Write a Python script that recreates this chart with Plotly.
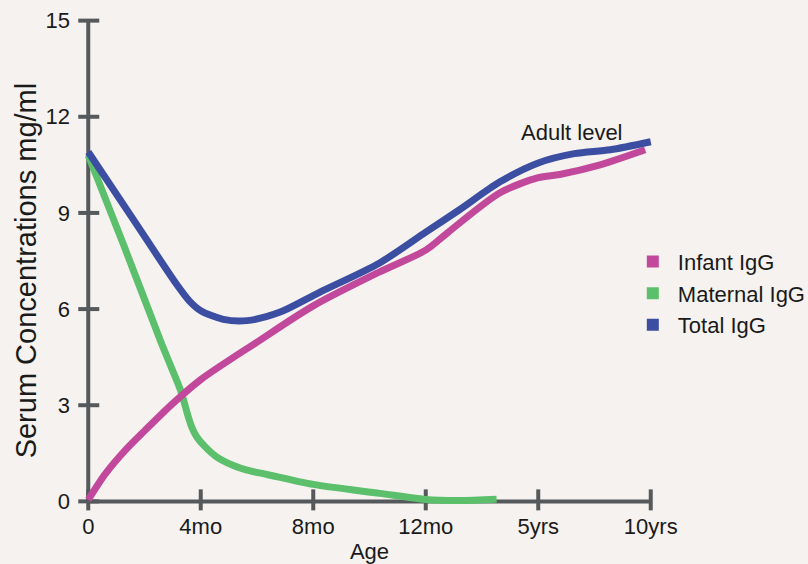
import plotly.graph_objects as go

# x positions: 0=0, 1=4mo, 2=8mo, 3=12mo, 4=5yrs, 5=10yrs
x_tickvals = [0, 1, 2, 3, 4, 5]
x_ticktext = ["0", "4mo", "8mo", "12mo", "5yrs", "10yrs"]
y_tickvals = [0, 3, 6, 9, 12, 15]

total_x = [0, 0.4, 0.78, 0.9, 1.0, 1.2, 1.41, 1.7, 2.06, 2.59, 3.0, 3.30, 3.66, 4.0, 4.32, 4.64, 5.0]
total_y = [10.9, 8.8, 6.8, 6.25, 5.95, 5.68, 5.64, 5.9, 6.53, 7.44, 8.4, 9.1, 9.97, 10.56, 10.85, 10.97, 11.22]

infant_x = [0, 0.15, 0.33, 0.5, 0.75, 1.0, 1.5, 2.0, 2.59, 3.0, 3.2, 3.66, 4.0, 4.19, 4.55, 4.95]
infant_y = [0.05, 0.85, 1.6, 2.2, 3.05, 3.8, 4.97, 6.1, 7.16, 7.84, 8.4, 9.63, 10.1, 10.2, 10.5, 10.97]

maternal_x = [0, 0.32, 0.64, 0.73, 0.82, 0.86, 0.89, 0.92, 0.965, 1.04, 1.14, 1.29, 1.44, 1.59, 2.0, 2.59, 3.0, 3.3, 3.63]
maternal_y = [10.8, 7.95, 5.03, 4.25, 3.47, 3.0, 2.63, 2.32, 2.01, 1.70, 1.39, 1.12, 0.95, 0.84, 0.53, 0.25, 0.06, 0.03, 0.07]

PINK = "#c2489b"
GREEN = "#5cbf6b"
BLUE = "#3b4ea2"
AXIS = "#55595b"
TXT = "#1a1a1a"
BG = "#f5f2ef"
FONT = "Liberation Sans, Arial, sans-serif"

fig = go.Figure()
series = [
    ("Infant IgG", infant_x, infant_y, PINK),
    ("Maternal IgG", maternal_x, maternal_y, GREEN),
    ("Total IgG", total_x, total_y, BLUE),
]
for name, xs, ys, col in [series[1], series[0], series[2]]:
    fig.add_trace(go.Scatter(x=xs, y=ys, mode="lines", name=name,
                             line=dict(color=col, width=7, shape="spline", smoothing=0.8),
                             showlegend=False, hoverinfo="skip"))
for name, xs, ys, col in series:
    fig.add_trace(go.Scatter(x=[None], y=[None], mode="markers", name=name,
                             marker=dict(color=col, size=16, symbol="square"),
                             showlegend=True))

shapes = []
shapes.append(dict(type="line", xref="x", yref="y", x0=0, x1=0, y0=0, y1=15,
                   line=dict(color=AXIS, width=4), layer="below"))
shapes.append(dict(type="line", xref="x", yref="y", x0=0, x1=5, y0=0, y1=0,
                   line=dict(color=AXIS, width=4), layer="below"))
for v in y_tickvals:
    shapes.append(dict(type="line", xref="x", yref="y", xsizemode="pixel", xanchor=0,
                       x0=-10, x1=11, y0=v, y1=v, line=dict(color=AXIS, width=4), layer="below"))
for v in x_tickvals:
    shapes.append(dict(type="line", xref="x", yref="y", ysizemode="pixel", yanchor=0,
                       y0=-9, y1=12, x0=v, x1=v, line=dict(color=AXIS, width=4), layer="below"))

fig.update_layout(
    width=808, height=564,
    margin=dict(l=76.7, r=145.7, t=11.4, b=53.4, autoexpand=False),
    paper_bgcolor=BG, plot_bgcolor=BG,
    font=dict(family=FONT, color=TXT, size=22),
    shapes=shapes,
    xaxis=dict(range=[-0.1, 5.1], tickvals=x_tickvals, ticktext=x_ticktext,
               showgrid=False, zeroline=False, showline=False, ticks="", automargin=False,
               tickfont=dict(size=22, color=TXT), ticklabelstandoff=0,
               title=dict(text="Age", font=dict(size=22, color=TXT), standoff=6)),
    yaxis=dict(range=[-0.3, 15.3], tickvals=y_tickvals,
               showgrid=False, zeroline=False, showline=False, ticks="", automargin=False,
               tickfont=dict(size=22, color=TXT), ticklabelstandoff=6),
    legend=dict(xref="container", yref="container", x=0.777, y=0.48,
                xanchor="left", yanchor="middle", itemwidth=40,
                bgcolor="rgba(0,0,0,0)", font=dict(size=22, color=TXT),
                itemsizing="constant", tracegroupgap=0),
    annotations=[
        dict(text="Adult level", x=4.3, y=11.5, xref="x", yref="y",
             showarrow=False, font=dict(size=22, color=TXT)),
        dict(text="Serum Concentrations mg/ml", textangle=-90,
             xref="paper", yref="paper", x=(26 - 76.7) / 585.5, y=1 - (270 - 11.4) / 499.2,
             xanchor="center", yanchor="middle", showarrow=False,
             font=dict(size=29, color=TXT)),
    ],
)

fig.write_html("out.html", config={"displayModeBar": False},
               post_script="document.body.style.margin='0';document.body.style.background='#f5f2ef';")
